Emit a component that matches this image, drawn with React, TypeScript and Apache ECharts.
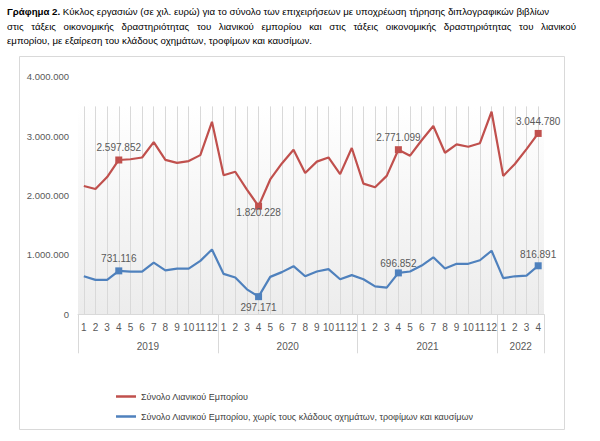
import React, { useEffect, useRef } from "react";
import * as echarts from "echarts";

const yearGroups = [
  { year: "2019", months: 12 },
  { year: "2020", months: 12 },
  { year: "2021", months: 12 },
  { year: "2022", months: 4 },
];

const totalRetail = [
  2160000, 2110000, 2310000, 2597852, 2610000, 2640000, 2900000, 2600000, 2550000, 2580000, 2680000, 3240000,
  2340000, 2400000, 2100000, 1820228, 2270000, 2540000, 2770000, 2380000, 2570000, 2640000, 2360000, 2800000,
  2200000, 2140000, 2330000, 2771099, 2670000, 2930000, 3170000, 2720000, 2860000, 2820000, 2880000, 3410000,
  2330000, 2530000, 2780000, 3044780,
];

const retailExcl = [
  640000, 580000, 580000, 731116, 720000, 720000, 870000, 740000, 770000, 770000, 900000, 1090000,
  680000, 620000, 420000, 297171, 630000, 710000, 810000, 640000, 720000, 760000, 590000, 660000,
  590000, 470000, 450000, 696852, 720000, 820000, 960000, 770000, 850000, 850000, 910000, 1070000,
  610000, 640000, 650000, 816891,
];

const labelledIdx = [3, 15, 27, 39];
const yTicks = [0, 1000000, 2000000, 3000000, 4000000];
const bandTop = 3500000;

const seriesNames = [
  "Σύνολο Λιανικού Εμπορίου",
  "Σύνολο Λιανικού Εμπορίου, χωρίς τους κλάδους οχημάτων, τροφίμων και καυσίμων",
];

const titleBold = "Γράφημα 2.";
const titleLine1 = " Κύκλος εργασιών (σε χιλ. ευρώ) για το σύνολο των επιχειρήσεων με υποχρέωση τήρησης διπλογραφικών βιβλίων";
const titleLine2 = "στις τάξεις οικονομικής δραστηριότητας του λιανικού εμπορίου και στις τάξεις οικονομικής δραστηριότητας του λιανικού";
const titleLine3 = "εμπορίου, με εξαίρεση του κλάδους οχημάτων, τροφίμων και καυσίμων.";

const FONT = "Liberation Sans";
const fmt = (v: number) => String(Math.round(v)).replace(/\B(?=(\d{3})+(?!\d))/g, ".");

export default function App() {
  const ref = useRef<HTMLDivElement>(null);
  useEffect(() => {
    if (!ref.current) return;
    const chart = echarts.init(ref.current, undefined, { renderer: "svg" });

    const months: string[] = [];
    yearGroups.forEach((g) => {
      for (let m = 1; m <= g.months; m++) months.push(String(m));
    });
    const n = months.length;
    const yearAxisData: string[] = new Array(2 * n + 1).fill("");
    const boundaries = new Set<number>();
    let s = 0;
    yearGroups.forEach((g) => {
      yearAxisData[2 * s + g.months] = g.year;
      boundaries.add(2 * s);
      s += g.months;
    });
    boundaries.add(2 * n);

    const canvas = document.createElement("canvas");
    const ctx = canvas.getContext("2d")!;
    const measure = (t: string, size: number, bold = false) => {
      ctx.font = `${bold ? "bold " : ""}${size}px "${FONT}"`;
      return ctx.measureText(t).width;
    };
    const target1 = 543;
    const w10 = measure(titleBold, 10, true) + measure(titleLine1, 10);
    const fs = Math.max(8, Math.min(12, (10 * target1) / w10));
    const left = 7;
    const right = 576;
    const words2 = titleLine2.split(" ");
    const wordsW = words2.map((w) => measure(w, fs));
    const gap = (right - left - wordsW.reduce((a, b) => a + b, 0)) / (words2.length - 1);
    const line2Els: any[] = [];
    let x = left;
    words2.forEach((w, i) => {
      line2Els.push({
        type: "text",
        x,
        y: 26,
        style: { text: w, fontFamily: FONT, fontSize: fs, fill: "#000000", textVerticalAlign: "middle" },
      });
      x += wordsW[i] + gap;
    });

    const mkData = (vals: number[], positions: string[], dists: number[]) =>
      vals.map((v, i) => {
        const k = labelledIdx.indexOf(i);
        if (k < 0) return v;
        return {
          value: v,
          symbol: "rect",
          symbolSize: 7,
          label: {
            show: true,
            position: positions[k],
            distance: dists[k],
            formatter: () => fmt(v),
            color: "#595959",
            fontSize: 10,
            fontFamily: FONT,
          },
        };
      });

    const option: any = {
      animation: false,
      backgroundColor: "#ffffff",
      grid: { left: 78, right: 56, top: 76.7, bottom: 126.7, containLabel: false },
      legend: {
        orient: "vertical",
        left: 111,
        top: 387,
        itemGap: 11,
        itemWidth: 20,
        itemHeight: 2.5,
        icon: "rect",
        data: seriesNames,
        textStyle: { color: "#404040", fontSize: 9, fontFamily: FONT },
      },
      xAxis: [
        {
          type: "category",
          data: months,
          boundaryGap: true,
          axisLine: { show: true, lineStyle: { color: "#d9d9d9", width: 1 } },
          axisTick: { show: false },
          axisLabel: { interval: 0, margin: 8, color: "#595959", fontSize: 10, fontFamily: FONT },
          splitLine: { show: false },
        },
        {
          type: "category",
          data: yearAxisData,
          boundaryGap: false,
          position: "bottom",
          axisLine: { show: false },
          axisTick: {
            show: true,
            length: 39,
            interval: (index: number) => boundaries.has(index),
            lineStyle: { color: "#d9d9d9", width: 1 },
          },
          axisLabel: { interval: 0, margin: 27, color: "#595959", fontSize: 10, fontFamily: FONT },
          splitLine: { show: false },
        },
      ],
      yAxis: {
        type: "value",
        min: yTicks[0],
        max: yTicks[yTicks.length - 1],
        interval: yTicks[1] - yTicks[0],
        axisLine: { show: false },
        axisTick: { show: false },
        splitLine: { show: false },
        axisLabel: { formatter: (v: number) => fmt(v), color: "#595959", fontSize: 9.5, fontFamily: FONT, margin: 9 },
      },
      series: [
        {
          name: "bg",
          type: "line",
          data: [],
          xAxisIndex: 0,
          z: 1,
          silent: true,
          markArea: {
            silent: true,
            z: 0,
            itemStyle: {
              color: {
                type: "linear",
                x: 0,
                y: 0,
                x2: 0,
                y2: 1,
                colorStops: [
                  { offset: 0, color: "#ffffff" },
                  { offset: 1, color: "#ececec" },
                ],
              },
            },
            data: [[{ yAxis: 0, x: 78 } as any, { yAxis: bandTop, x: 544 } as any]],
          },
          markLine: {
            silent: true,
            z: 1,
            symbol: "none",
            label: { show: false },
            lineStyle: { color: "#d9d9d9", width: 1, type: "solid" },
            data: months.map((_, i) => [{ coord: [i, 0] }, { coord: [i, bandTop] }]),
          },
        },
        {
          name: seriesNames[0],
          type: "line",
          xAxisIndex: 0,
          z: 3,
          symbol: "none",
          color: "#c0504d",
          lineStyle: { width: 2.2, color: "#c0504d" },
          itemStyle: { color: "#c0504d" },
          data: mkData(totalRetail, ["top", "bottom", "top", "top"], [3.5, -2, 3.5, 3.5]),
        },
        {
          name: seriesNames[1],
          type: "line",
          xAxisIndex: 0,
          z: 3,
          symbol: "none",
          color: "#4f81bd",
          lineStyle: { width: 2.2, color: "#4f81bd" },
          itemStyle: { color: "#4f81bd" },
          data: mkData(retailExcl, ["top", "bottom", "top", "top"], [3.5, 2, 1, 3]),
        },
      ],
      graphic: [
        {
          type: "rect",
          z: -10,
          shape: { x: 19.5, y: 56.5, width: 545, height: 373 },
          style: { fill: "none", stroke: "#d9d9d9", lineWidth: 1 },
        },
        {
          type: "text",
          x: left,
          y: 11.5,
          style: {
            text: `{b|${titleBold}}{n|${titleLine1}}`,
            textVerticalAlign: "middle",
            rich: {
              b: { fontFamily: FONT, fontSize: fs, fontWeight: "bold", fill: "#000000", color: "#000000" },
              n: { fontFamily: FONT, fontSize: fs, fill: "#000000", color: "#000000" },
            },
          },
        },
        ...line2Els,
        {
          type: "text",
          x: left,
          y: 40,
          style: { text: titleLine3, fontFamily: FONT, fontSize: fs, fill: "#000000", textVerticalAlign: "middle" },
        },
      ],
    };
    chart.setOption(option);
    return () => chart.dispose();
  }, []);
  return <div ref={ref} style={{ position: "fixed", left: 0, top: 0, width: 600, height: 441 }} />;
}
